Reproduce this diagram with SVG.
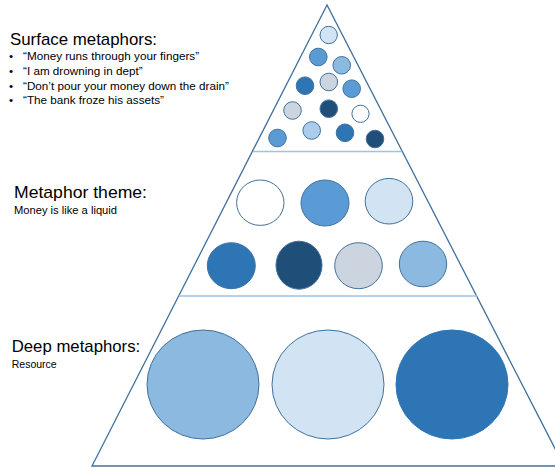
<svg xmlns="http://www.w3.org/2000/svg" width="555" height="468" viewBox="0 0 555 468">
<style>
.h{font-family:"Liberation Sans",Arial,sans-serif;font-size:17px;fill:#000}
.s{font-family:"Liberation Sans",Arial,sans-serif;font-size:11.7px;fill:#000}
.c{stroke:#41719c;stroke-width:1}
.med{fill:#5b9bd5}
.dark{fill:#2e75b6}
.navy{fill:#1f4e79}
.lm{fill:#8cb9e0}
.light{fill:#d2e4f3}
.gray{fill:#ccd5df}
.white{fill:#ffffff}
.pale{fill:#a9cdea}
</style>
<rect width="555" height="468" fill="#ffffff"/>
<g id="pyramid">
<polygon points="327,5 92,466 564,466" fill="none" stroke="#41719c" stroke-width="1.3"/>
</g>
<g id="connectors">
<line x1="253" y1="151.5" x2="402" y2="151.5" stroke="#9dc3e6" stroke-width="1.5"/>
<line x1="179" y1="296" x2="477" y2="296" stroke="#9dc3e6" stroke-width="1.5"/>
</g>
<g id="surface-metaphors">
<text class="h" x="10" y="44.5" textLength="147" lengthAdjust="spacingAndGlyphs">Surface metaphors:</text>
<g class="s">
<text x="9" y="60">•</text><text x="23" y="60">“Money runs through your fingers”</text>
<text x="9" y="75">•</text><text x="23" y="75">“I am drowning in dept”</text>
<text x="9" y="89.5">•</text><text x="23" y="89.5">“Don’t pour your money down the drain”</text>
<text x="9" y="104">•</text><text x="23" y="104">“The bank froze his assets”</text>
</g>
<g id="small-circles">
<circle class="c light" cx="328.7" cy="35" r="8.7"/>
<circle class="c med" cx="318.3" cy="57" r="8.8"/>
<circle class="c lm" cx="341.7" cy="65.3" r="8.8"/>
<circle class="c dark" cx="305" cy="85.7" r="8.8"/>
<circle class="c gray" cx="328.8" cy="82" r="8.8"/>
<circle class="c med" cx="351.7" cy="88.7" r="8.8"/>
<circle class="c gray" cx="292.5" cy="110.5" r="8.8"/>
<circle class="c navy" cx="328.8" cy="108.7" r="8.8"/>
<circle class="c white" cx="360.5" cy="113.8" r="8.6"/>
<circle class="c med" cx="277.5" cy="138" r="8.8"/>
<circle class="c pale" cx="311.7" cy="130.5" r="8.8"/>
<circle class="c dark" cx="345" cy="132.8" r="8.8"/>
<circle class="c navy" cx="375" cy="139" r="8.8"/>
</g>
</g>
<g id="metaphor-theme">
<text class="h" x="14" y="198" textLength="133" lengthAdjust="spacingAndGlyphs">Metaphor theme:</text>
<text class="s" x="14" y="214" textLength="103" lengthAdjust="spacingAndGlyphs">Money is like a liquid</text>
<ellipse class="c white" cx="260.3" cy="202.7" rx="23.7" ry="22.7"/>
<ellipse class="c med" cx="325" cy="203" rx="24" ry="23"/>
<ellipse class="c light" cx="389" cy="201.2" rx="23.8" ry="22.8"/>
<ellipse class="c dark" cx="231.3" cy="265.7" rx="24" ry="23"/>
<ellipse class="c navy" cx="299" cy="265.2" rx="23" ry="24"/>
<ellipse class="c gray" cx="358.5" cy="265.7" rx="23.8" ry="23"/>
<ellipse class="c lm" cx="423" cy="264" rx="23.7" ry="22.8"/>
</g>
<g id="deep-metaphors">
<text class="h" x="11.7" y="352" textLength="128.5" lengthAdjust="spacingAndGlyphs">Deep metaphors:</text>
<text class="s" x="11.7" y="367.5" textLength="45" lengthAdjust="spacingAndGlyphs">Resource</text>
<ellipse class="c lm" cx="203" cy="384.5" rx="56" ry="54.5"/>
<ellipse class="c light" cx="328" cy="384.5" rx="56" ry="54.5"/>
<ellipse class="dark" cx="452" cy="384.5" rx="56" ry="54.5" stroke="#2e75b6" stroke-width="1"/>
</g>
</svg>
